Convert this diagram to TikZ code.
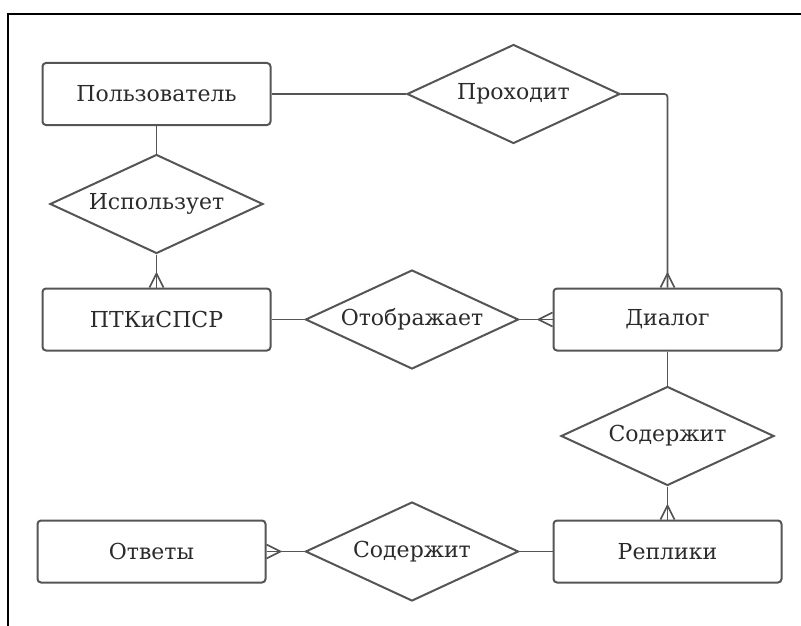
\documentclass[tikz,border=0pt]{standalone}
\usepackage{fontspec}
\setmainfont{DejaVu Serif}
\usetikzlibrary{shapes.geometric,calc}
\definecolor{linegray}{HTML}{555555}
\definecolor{textgray}{HTML}{2B2B2B}
\tikzset{
  entity/.style={draw=linegray, line width=2pt, rounded corners=3.5pt, fill=white,
    minimum width=228pt, minimum height=62pt, inner sep=0pt, text=textgray,
    font=\fontsize{22}{26}\selectfont},
  relation/.style={draw=linegray, line width=2pt, diamond, aspect=2.15, fill=white,
    minimum width=213pt, minimum height=99pt, inner sep=0pt, text=textgray,
    font=\fontsize{22}{26}\selectfont},
  conn/.style={draw=linegray, line width=1.7pt},
  frameline/.style={draw=black, line width=2.2pt}
}
\newcommand{\crowfoot}[3]{\draw[conn] ($(#1)+(#2)$) -- ($(#1)+(#3)$) -- ($(#1)-(#2)$);}
\begin{document}
\begin{tikzpicture}[x=1pt,y=-1pt]
\useasboundingbox (0,0) rectangle (801,626);
\fill[white] (0,0) rectangle (801,626);
\coordinate (fbl) at (8,626);
\coordinate (ftl) at (8,14);
\coordinate (ftr) at (801,14);
\draw[frameline] (fbl) -- (ftl) -- (ftr);

\node[entity] (user) at (156.5,94) {Пользователь};
\node[entity] (ptk) at (156.5,319.5) {ПТКиСПСР};
\node[entity] (dialog) at (667.5,319.5) {Диалог};
\node[entity] (repl) at (667.5,551.5) {Реплики};
\node[entity] (answ) at (151.5,551.5) {Ответы};

\node[relation] (pass) at (513.5,94) {Проходит};
\node[relation] (use) at (156.5,204) {Использует};
\node[relation] (disp) at (412,319.5) {Отображает};
\node[relation] (cont1) at (667.5,436) {Содержит};
\node[relation] (cont2) at (412,551.5) {Содержит};

\draw[conn] (user.east) -- (pass.west);
\draw[conn, rounded corners=3pt] (pass.east) -| (dialog.north);
\crowfoot{dialog.north}{7,0}{0,-14}

\draw[conn] (user.south) -- (use.north);
\draw[conn] (use.south) -- (ptk.north);
\crowfoot{ptk.north}{7,0}{0,-14}

\draw[conn] (ptk.east) -- (disp.west);
\draw[conn] (disp.east) -- (dialog.west);
\crowfoot{dialog.west}{0,7}{-14,0}

\draw[conn] (dialog.south) -- (cont1.north);
\draw[conn] (cont1.south) -- (repl.north);
\crowfoot{repl.north}{7,0}{0,-14}

\draw[conn] (repl.west) -- (cont2.east);
\draw[conn] (cont2.west) -- (answ.east);
\crowfoot{answ.east}{0,7}{14,0}
\end{tikzpicture}
\end{document}
